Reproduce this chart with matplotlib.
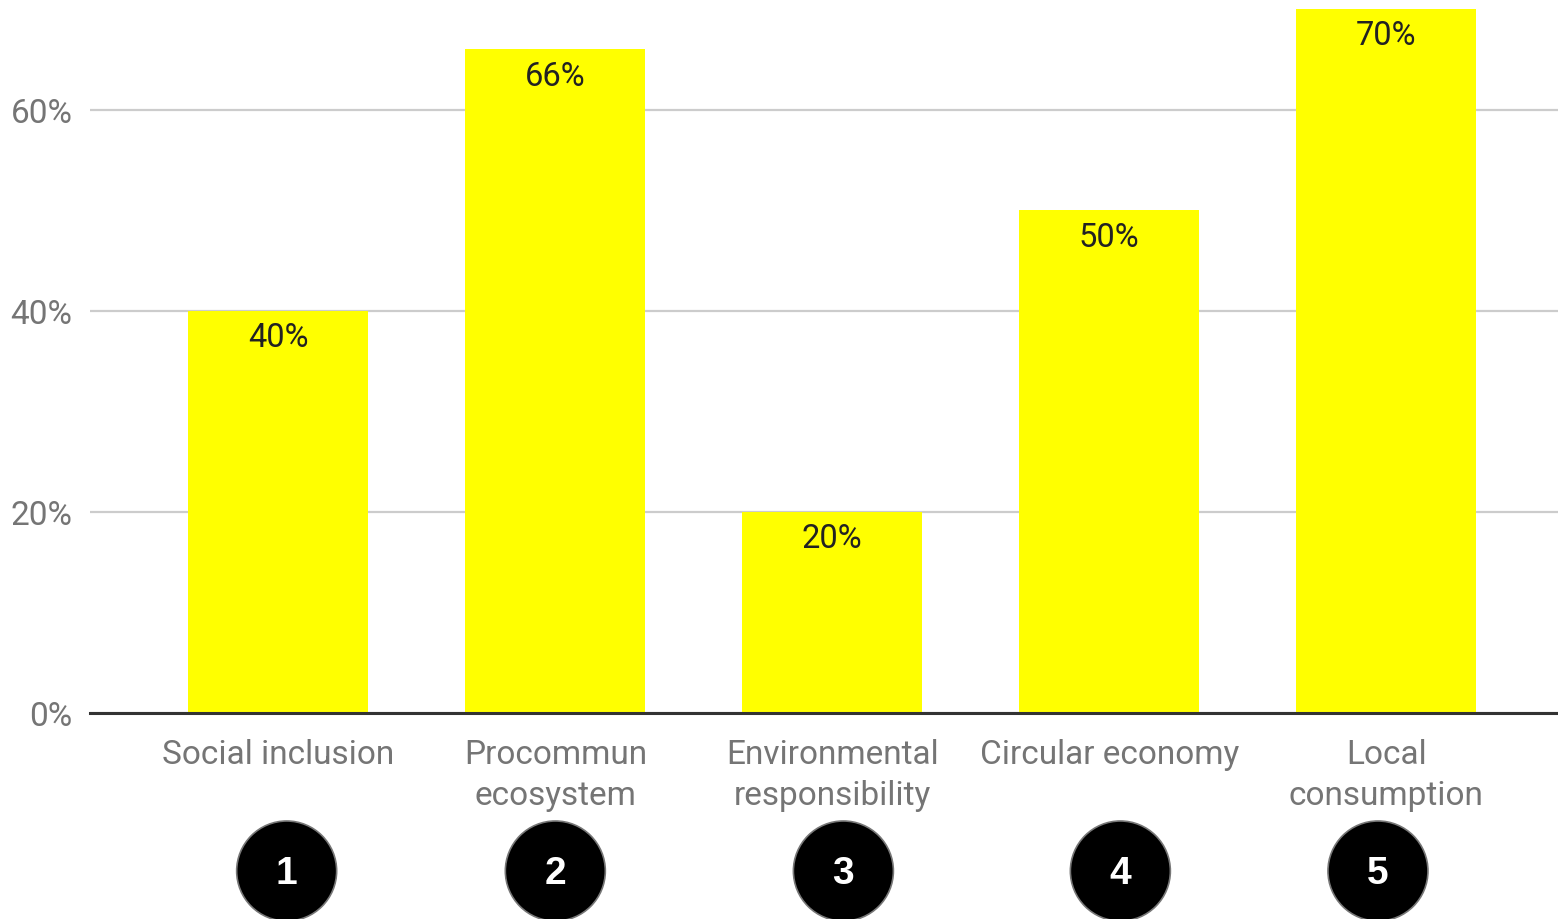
import matplotlib
matplotlib.use("Agg")
import matplotlib.pyplot as plt
import matplotlib.transforms as mtransforms
from matplotlib.patches import Ellipse

categories = ["Social inclusion", "Procommun\necosystem", "Environmental\nresponsibility",
              "Circular economy", "Local\nconsumption"]
values = [40, 66, 20, 50, 70]
value_labels = ["40%", "66%", "20%", "50%", "70%"]
yticks = [0, 20, 40, 60]
ytick_labels = ["0%", "20%", "40%", "60%"]
badges = ["1", "2", "3", "4", "5"]
badge_x = [0.03, 1.0, 2.04, 3.04, 3.97]

plt.rcParams['font.family'] = ['Roboto', 'DejaVu Sans']

W, H = 1558, 920
fig = plt.figure(figsize=(W / 100, H / 100), dpi=100)
ax = fig.add_axes([90 / W, 1 - 714 / H, (1558 - 90) / W, (714 - 10) / H])

x = list(range(len(values)))
ax.bar(x, values, width=0.65, color="#ffff00", zorder=2)
ax.set_xlim(-0.68, 4.62)
ax.set_ylim(0, 70)

ax.set_yticks(yticks)
ax.set_yticklabels(ytick_labels, fontsize=24, color="#757575")
ax.tick_params(axis="y", length=0, pad=12.5)
ax.set_xticks(x)
ax.set_xticklabels(categories, fontsize=24, color="#757575", linespacing=1.36, va="top")
ax.tick_params(axis="x", length=0, pad=18)

for spine in ["top", "right", "left"]:
    ax.spines[spine].set_visible(False)
ax.spines["bottom"].set_color("#333333")
ax.spines["bottom"].set_linewidth(2.2)
ax.spines["bottom"].set_zorder(3)

ax.yaxis.grid(True, color="#cccccc", linewidth=1.6, zorder=0)
ax.set_axisbelow(True)

for xi, v, lab in zip(x, values, value_labels):
    ax.annotate(lab, (xi, v), xytext=(0, -19), textcoords="offset points",
                ha="center", va="center", fontsize=23.5, color="#222222", zorder=4)

trans = mtransforms.blended_transform_factory(ax.transData, fig.transFigure)
for bx, b in zip(badge_x, badges):
    e = Ellipse((bx, 1 - 872 / H), width=100 / 277, height=100 / H,
                transform=trans, facecolor="black", edgecolor="#777777",
                linewidth=1.2, clip_on=False, zorder=5)
    fig.add_artist(e)
    t = fig.text(bx, 1 - 874 / H, b, transform=trans, ha="center", va="center",
                 fontsize=28, fontweight="bold", color="white",
                 family=["Liberation Sans", "DejaVu Sans"])
    t.set_zorder(6)

fig.savefig("out.png", dpi=100)
